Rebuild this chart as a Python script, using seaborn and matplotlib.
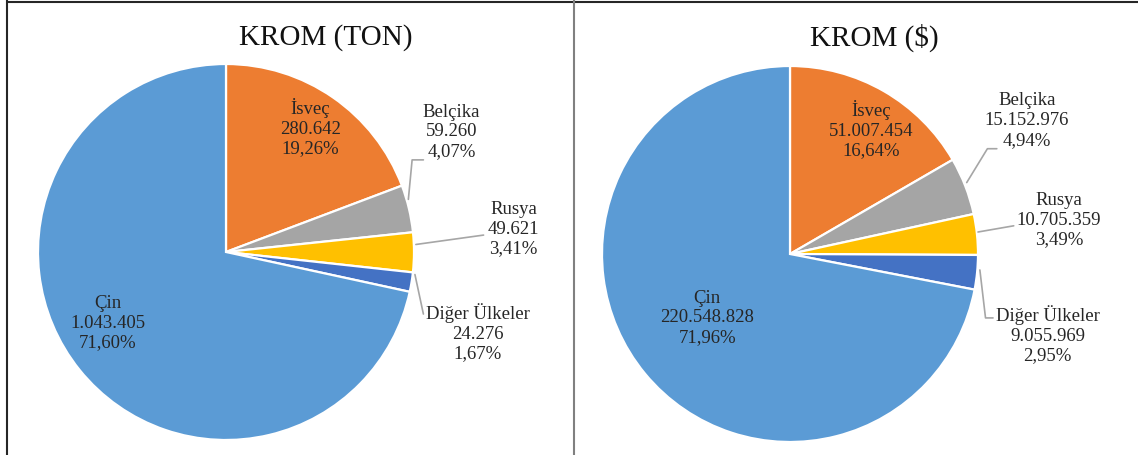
import numpy as np
import seaborn as sns
import matplotlib.pyplot as plt
from matplotlib.lines import Line2D

# Data (clockwise from 12 o'clock)
countries = ["İsveç", "Belçika", "Rusya", "Diğer Ülkeler", "Çin"]
ton_values = [280642, 59260, 49621, 24276, 1043405]
ton_pcts = ["19,26%", "4,07%", "3,41%", "1,67%", "71,60%"]
usd_values = [51007454, 15152976, 10705359, 9055969, 220548828]
usd_pcts = ["16,64%", "4,94%", "3,49%", "2,95%", "71,96%"]
titles = ["KROM (TON)", "KROM ($)"]

colors = ["#ED7D31", "#A5A5A5", "#FFC000", "#4472C4", "#5B9BD5"]

sns.set_style("white")
plt.rcParams['font.family'] = ['Liberation Serif', 'DejaVu Serif']

W, H = 1138, 455
fig = plt.figure(figsize=(W / 100, H / 100), dpi=100)


def fmt(v):
    return f"{v:,}".replace(",", ".")


# label positions in pie-radius units, leader line vertices (None = inside label)
layouts = [
    {
        "center": (226, 252), "title_x": 326,
        "labels": [(0.45, 0.66), (1.20, 0.64), (1.53, 0.12), (1.34, -0.43), (-0.63, -0.38)],
        "leaders": [None,
                    [(0.97, 0.28), (0.99, 0.49), (1.05, 0.49)],
                    [(1.01, 0.04), (1.37, 0.09)],
                    [(1.005, -0.12), (1.05, -0.33)],
                    None],
    },
    {
        "center": (790, 254), "title_x": 874,
        "labels": [(0.43, 0.66), (1.26, 0.71), (1.43, 0.18), (1.37, -0.43), (-0.44, -0.34)],
        "leaders": [None,
                    [(0.94, 0.38), (1.05, 0.56), (1.10, 0.56)],
                    [(1.0, 0.117), (1.19, 0.15)],
                    [(1.01, -0.085), (1.04, -0.34), (1.08, -0.34)],
                    None],
    },
]

R = 188
for values, pcts, title, lay in zip([ton_values, usd_values], [ton_pcts, usd_pcts], titles, layouts):
    cx, cy = lay["center"]
    ax = fig.add_axes([(cx - R) / W, (H - cy - R) / H, 2 * R / W, 2 * R / H])
    ax.pie(values, colors=colors, startangle=90, counterclock=False,
           wedgeprops=dict(edgecolor="white", linewidth=1.6))
    ax.set_xlim(-1, 1)
    ax.set_ylim(-1, 1)
    ax.set_aspect("equal")
    ax.axis("off")

    for name, v, p, pos, lead in zip(countries, values, pcts, lay["labels"], lay["leaders"]):
        ax.text(pos[0], pos[1], f"{name}\n{fmt(v)}\n{p}", ha="center", va="center",
                fontsize=13.5, linespacing=1.2, color="#262626", clip_on=False)
        if lead is not None:
            xs, ys = zip(*lead)
            ax.plot(xs, ys, color="#A6A6A6", lw=1.2, clip_on=False)

    fig.text(lay["title_x"] / W, 1 - 38 / H, title, ha="center", va="center",
             fontsize=21, color="#111111")

# frame lines
fig.add_artist(Line2D([7 / W, 1], [1 - 1.5 / H, 1 - 1.5 / H], color="#262626", lw=1.5))
fig.add_artist(Line2D([7 / W, 7 / W], [0, 1], color="#262626", lw=1.5))
fig.add_artist(Line2D([574 / W, 574 / W], [0, 1], color="#808080", lw=1.5))

fig.savefig("out.png", dpi=100)
